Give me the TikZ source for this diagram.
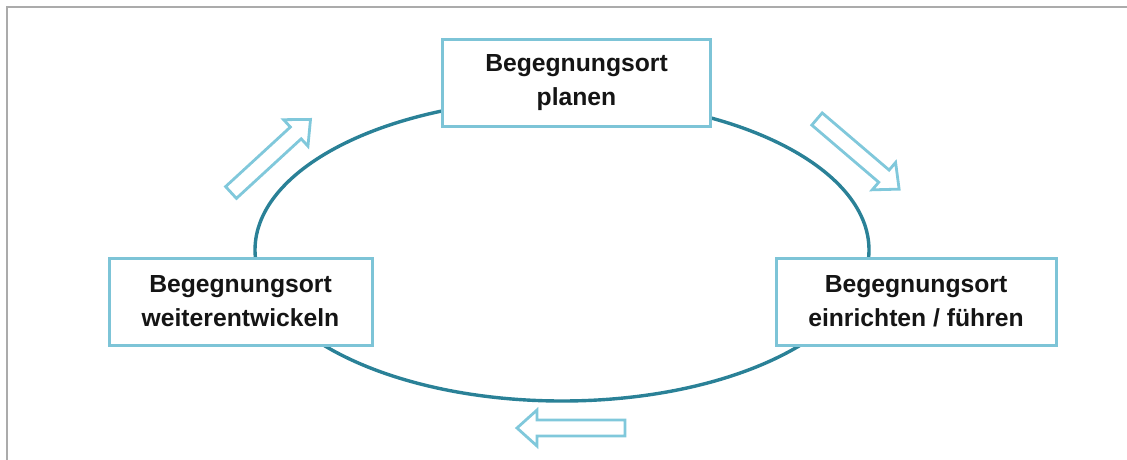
\documentclass[tikz,border=0pt]{standalone}
\usepackage{fontspec}
\setmainfont{Liberation Sans}
\definecolor{ringc}{HTML}{2A8197}
\definecolor{boxc}{HTML}{7DC4D7}
\definecolor{arrc}{HTML}{80C8DB}
\definecolor{framec}{HTML}{ABABAB}
\definecolor{txtc}{HTML}{151515}
\begin{document}
\begin{tikzpicture}[x=1pt,y=1pt,
  stagebox/.style={draw=boxc, line width=3pt, fill=white, align=center,
    font=\bfseries\fontsize{24.7}{34}\selectfont, text=txtc, inner sep=0pt},
  cyclearrow/.style={draw=arrc, line width=2.8pt, fill=white, line join=miter}]
\useasboundingbox (0,0) rectangle (1127,-460);
% frame
\draw[framec, line width=2pt] (7,-460) -- (7,-7) -- (1127,-7);
% cycle ring
\draw[ringc, line width=3.4pt] (562,-250) ellipse [x radius=307, y radius=151];
% stages
\node[stagebox, minimum width=268, minimum height=87] (plan) at (576.5,-83) {Begegnungsort\\planen};
\node[stagebox, minimum width=263, minimum height=87] (develop) at (240.5,-301.5) {Begegnungsort\\weiterentwickeln};
\node[stagebox, minimum width=280, minimum height=87] (setup) at (916,-301.5) {Begegnungsort\\einrichten / führen};
% direction arrows
\draw[cyclearrow, shift={(231,-192.5)}, rotate=42.6]
  (0,-8) -- (88,-8) -- (88,-18) -- (108,0) -- (88,18) -- (88,8) -- (0,8) -- cycle;
\draw[cyclearrow, shift={(817,-119)}, rotate=-40.5]
  (0,-8) -- (88,-8) -- (88,-18) -- (108,0) -- (88,18) -- (88,8) -- (0,8) -- cycle;
\draw[cyclearrow, shift={(625,-428)}, rotate=180]
  (0,-8) -- (88,-8) -- (88,-18) -- (108,0) -- (88,18) -- (88,8) -- (0,8) -- cycle;
\end{tikzpicture}
\end{document}
